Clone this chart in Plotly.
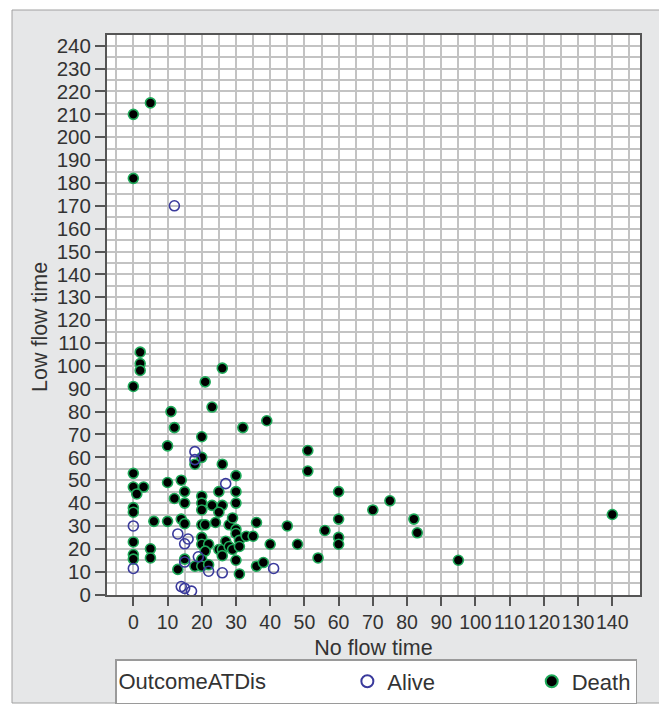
import plotly.graph_objects as go

# ---- data ----
death_x = [5, 0, 0,
           2, 2, 2, 0, 26, 21, 23, 11, 39, 12, 32, 20, 10, 20, 18, 26,
           51, 51, 60, 75, 70, 60, 82, 45, 56, 83, 60, 60, 48, 40, 54, 95, 140,
           0, 0, 3, 1, 10, 14, 15, 12, 15, 0, 0, 6, 10, 14, 15, 0, 0, 0, 5, 5, 15, 13,
           20, 20, 20, 23, 25, 26, 25, 30, 30, 30,
           20, 21, 24, 28, 29, 30, 30, 31, 33, 35, 36,
           20, 20, 22, 21, 25, 26, 26, 27, 28, 29, 31, 30, 20, 18, 20, 22, 31, 36, 38]
death_y = [215, 210, 182,
           106, 101, 98, 91, 99, 93, 82, 80, 76, 73, 73, 69, 65, 60, 57, 57,
           63, 54, 45, 41, 37, 33, 33, 30, 28, 27, 25, 22, 22, 22, 16, 15, 35,
           53, 47, 47, 44, 49, 50, 45, 42, 40, 38, 36, 32, 32, 33, 31, 23, 17.5, 15.5, 20, 16, 15.5, 11,
           43, 40, 37, 39, 45, 39, 36, 52, 45, 40,
           30.5, 30.5, 31.5, 30.5, 33.5, 28.5, 26.7, 23.7, 25.5, 25.5, 31.5,
           25, 22, 22, 19, 19.7, 19.7, 17, 23.3, 21, 19.7, 21, 15, 15.3, 12.4, 12.4, 13, 9, 12.4, 14]

alive_x = [12, 18, 18, 27, 0, 13, 16, 15, 19, 15, 0, 22, 26, 41, 14, 15, 17]
alive_y = [170, 62.5, 59, 48.5, 30, 26.5, 24.3, 22.2, 16.5, 14.2, 11.4, 10.2, 9.5, 11.4, 3.5, 2.7, 1.5]

x_ticks = list(range(0, 141, 10))
y_ticks = list(range(0, 241, 10))

# page layout (the figure sits 8px inside the page because of the body margin)
OFF = 8
W, H = 667 - OFF, 706 - OFF
L, R, T, B = 107 - OFF, 640 - OFF, 35 - OFF, 595 - OFF   # plot area, figure pixels
pw, ph = R - L, B - T

def px(x):          # page x -> paper
    return (x - OFF - L) / pw

def py(y):          # page y -> paper
    return (B - (y - OFF)) / ph

PANEL = "#e6e7e8"
GRID = "#c3c3c3"
TEXT = "#333333"
FONT = "Liberation Sans, Arial, Helvetica, sans-serif"
NB = "\u00a0"

fig = go.Figure()
fig.add_trace(go.Scatter(
    x=death_x, y=death_y, mode="markers", name="Death",
    marker=dict(symbol="circle", size=10, color="#000000",
                line=dict(color="#1faa5a", width=1.6)),
    hoverinfo="x+y"))
fig.add_trace(go.Scatter(
    x=alive_x, y=alive_y, mode="markers", name="Alive" + NB * 15,
    marker=dict(symbol="circle-open", size=10, color="#3a3a9c",
                line=dict(width=1.6)),
    hoverinfo="x+y"))

axis_common = dict(
    showgrid=True, gridcolor=GRID, gridwidth=1.5,
    zeroline=False, showline=True, mirror=True,
    linecolor="#555555", linewidth=2,
    ticks="outside", tickcolor="#555555", tickwidth=1.5,
    tickangle=0,
)

fig.update_xaxes(
    range=[-7.7, 148.1], tickvals=x_ticks, ticklen=9,
    tickfont=dict(size=19.5, color=TEXT, family=FONT),
    minor=dict(dtick=5, tick0=0, showgrid=True, gridcolor=GRID, gridwidth=1.5, ticklen=0),
    title=dict(text="No flow time", font=dict(size=21.5, color=TEXT, family=FONT), standoff=8),
    **axis_common)
fig.update_yaxes(
    range=[-0.2, 244.7], tickvals=y_ticks, ticklen=10,
    tickfont=dict(size=20.5, color=TEXT, family=FONT),
    minor=dict(dtick=5, tick0=0, showgrid=True, gridcolor=GRID, gridwidth=1.5, ticklen=0),
    **axis_common)

shapes = [
    # white margins outside the grey panel
    dict(type="rect", xref="paper", yref="paper", x0=px(-20), x1=px(12), y0=py(730), y1=py(-20),
         fillcolor="white", line=dict(width=0), layer="above"),
    dict(type="rect", xref="paper", yref="paper", x0=px(-20), x1=px(690), y0=py(10), y1=py(-20),
         fillcolor="white", line=dict(width=0), layer="above"),
    dict(type="rect", xref="paper", yref="paper", x0=px(664), x1=px(690), y0=py(730), y1=py(-20),
         fillcolor="white", line=dict(width=0), layer="above"),
    dict(type="rect", xref="paper", yref="paper", x0=px(-20), x1=px(690), y0=py(730), y1=py(703),
         fillcolor="white", line=dict(width=0), layer="above"),
    # panel border
    dict(type="rect", xref="paper", yref="paper", x0=px(12), x1=px(664), y0=py(703), y1=py(10),
         fillcolor="rgba(0,0,0,0)", line=dict(color="#a0a0a0", width=1), layer="above"),
]

annotations = [
    dict(text="Low flow time", xref="paper", yref="paper", x=px(40), y=py(327),
         xanchor="center", yanchor="middle", textangle=-90, showarrow=False,
         font=dict(size=21.5, color=TEXT, family=FONT)),
]

fig.update_layout(
    width=W, height=H,
    margin=dict(l=L, r=W - R, t=T, b=H - B, autoexpand=False),
    paper_bgcolor=PANEL, plot_bgcolor="white",
    font=dict(family=FONT, size=20, color=TEXT),
    shapes=shapes,
    annotations=annotations,
    showlegend=True,
    legend=dict(
        orientation="h", x=px(115), xanchor="left", y=py(659), yanchor="top",
        bgcolor="white", bordercolor="#9a9a9a", borderwidth=1.5,
        font=dict(size=22, color=TEXT, family=FONT),
        title=dict(text="OutcomeATDis" + NB * 12, side="left",
                   font=dict(size=22, color=TEXT, family=FONT)),
        traceorder="reversed",
        itemsizing="constant",
    ),
)

fig.write_html("out.html")
